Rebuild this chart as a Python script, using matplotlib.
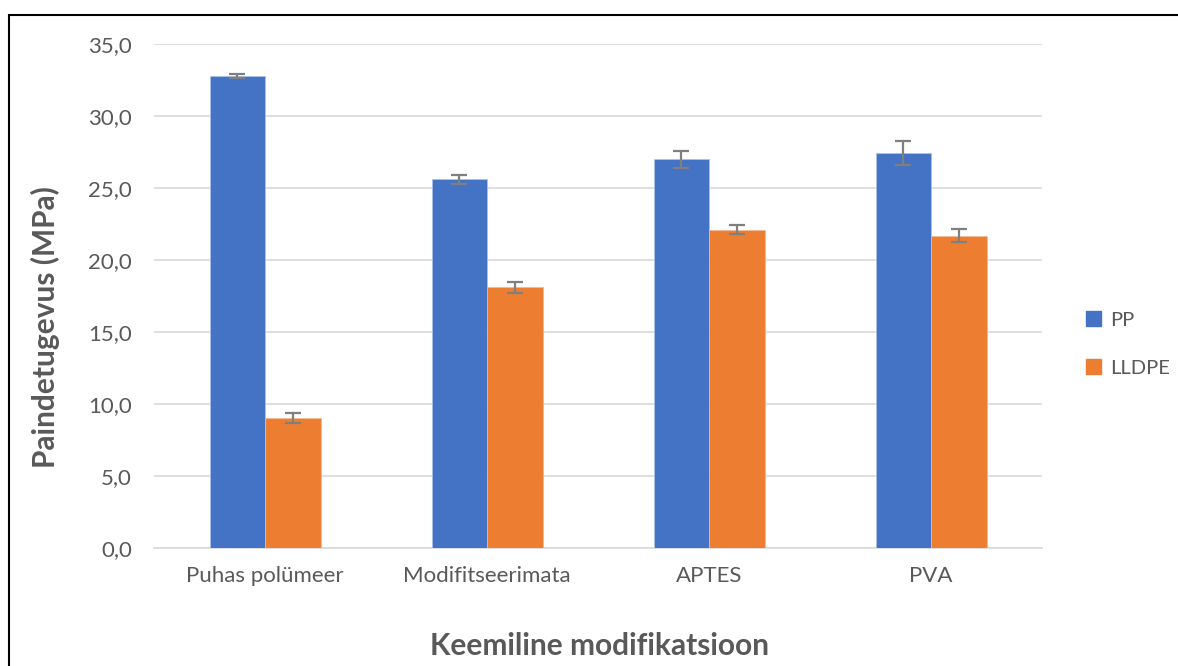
import matplotlib.pyplot as plt
import numpy as np
from matplotlib.patches import Rectangle, Patch

categories = ['Puhas polümeer', 'Modifitseerimata', 'APTES', 'PVA']
pp_values = [32.8, 25.6, 27.0, 27.4]
pp_errors = [0.14, 0.3, 0.6, 0.83]
lldpe_values = [9.0, 18.1, 22.1, 21.7]
lldpe_errors = [0.35, 0.4, 0.3, 0.45]
yticks = [0, 5, 10, 15, 20, 25, 30, 35]

plt.rcParams['font.family'] = ['Lato', 'DejaVu Sans']
txt = '#595959'

fig = plt.figure(figsize=(11.78, 6.66), dpi=100)
ax = fig.add_axes([154/1178, 1-548/666, (1042-154)/1178, (548-44)/666])

# chart frame
fig.patches.append(Rectangle((9/1178, -0.2), 1.2, 1.2 - 15/666, transform=fig.transFigure,
                             fill=False, edgecolor='black', linewidth=1.5))

x = np.arange(len(categories))
w = 0.25
err_kw = dict(ecolor='#7f7f7f', elinewidth=1.6, capsize=6, capthick=1.6)
ax.bar(x - w/2, pp_values, w, yerr=pp_errors, color='#4472c4', edgecolor='#aec3e8',
       linewidth=0.5, error_kw=err_kw, zorder=3)
ax.bar(x + w/2, lldpe_values, w, yerr=lldpe_errors, color='#ed7d31', edgecolor='#f5b98f',
       linewidth=0.5, error_kw=err_kw, zorder=3)

ax.set_xlim(-0.5, len(categories) - 0.5)
ax.set_ylim(0, 35)
ax.set_yticks(yticks)
ax.set_yticklabels([f'{v:.1f}'.replace('.', ',') for v in yticks])
ax.set_xticks(x)
ax.set_xticklabels(categories)
ax.grid(axis='y', color='#d9d9d9', linewidth=1.2, zorder=0)
ax.set_axisbelow(True)
for s in ['top', 'right', 'left']:
    ax.spines[s].set_visible(False)
ax.spines['bottom'].set_color('#d9d9d9')
ax.spines['bottom'].set_linewidth(1.2)
ax.tick_params(length=0, labelsize=16, colors=txt)
ax.tick_params(axis='x', pad=13)
ax.tick_params(axis='y', pad=16)

fig.text(600/1178, 1-646/666, 'Keemiline modifikatsioon', ha='center', va='center',
         fontsize=21.5, fontweight='bold', color=txt)
fig.text(45/1178, 1-327/666, 'Paindetugevus (MPa)', ha='center', va='center', rotation=90,
         fontsize=21.5, fontweight='bold', color=txt)

handles = [Patch(color='#4472c4', label='PP'), Patch(color='#ed7d31', label='LLDPE')]
fig.legend(handles=handles, loc='center left', bbox_to_anchor=(1068/1178, 1-344/666),
           frameon=False, handlelength=0.75, handleheight=0.75, handletextpad=0.45,
           labelspacing=1.5, fontsize=14.5, labelcolor=txt)

fig.savefig('out.png', dpi=100)
